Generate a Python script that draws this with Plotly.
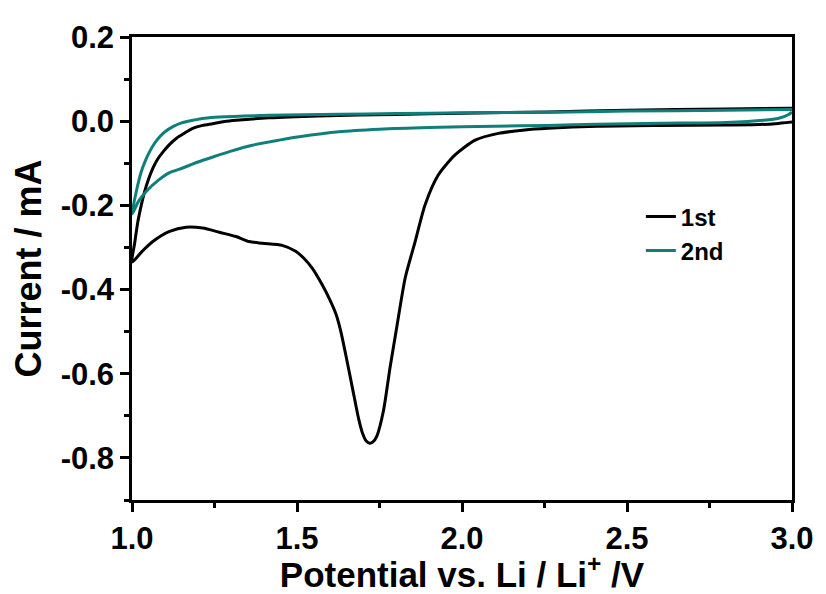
import plotly.graph_objects as go

# ---- data ----
# 1st cycle: cathodic sweep 3.0 -> 1.0 then anodic sweep 1.0 -> 3.0
v_1st = [3.0, 2.95, 2.9, 2.8, 2.6, 2.41, 2.26, 2.19, 2.11, 2.04, 1.979, 1.928,
         1.888, 1.858, 1.828, 1.802, 1.782, 1.762, 1.742, 1.73, 1.72, 1.71,
         1.698, 1.687, 1.667, 1.647, 1.632, 1.618, 1.6, 1.576, 1.546, 1.52,
         1.496, 1.455, 1.395, 1.355, 1.315, 1.265, 1.214, 1.164, 1.114, 1.063,
         1.03, 1.0,
         1.008, 1.018, 1.028, 1.038, 1.05, 1.063, 1.078, 1.094, 1.114, 1.134,
         1.16, 1.184, 1.214, 1.244, 1.28, 1.315, 1.415, 1.566, 1.8, 2.0, 2.26,
         2.5, 2.8, 3.0]
i_1st = [-0.002, -0.006, -0.008, -0.009, -0.010, -0.012, -0.017, -0.021, -0.029,
         -0.045, -0.080, -0.128, -0.199, -0.286, -0.372, -0.491, -0.585, -0.688,
         -0.748, -0.762, -0.765, -0.760, -0.740, -0.708, -0.630, -0.552, -0.497,
         -0.458, -0.425, -0.388, -0.349, -0.325, -0.309, -0.295, -0.290, -0.286,
         -0.274, -0.264, -0.254, -0.252, -0.262, -0.286, -0.310, -0.335,
         -0.290, -0.238, -0.200, -0.168, -0.138, -0.112, -0.090, -0.073, -0.055,
         -0.041, -0.028, -0.017, -0.010, -0.006, -0.001, 0.002, 0.008, 0.0125,
         0.016, 0.019, 0.022, 0.026, 0.029, 0.031]

# 2nd cycle
v_2nd = [3.0, 2.99, 2.96, 2.914, 2.8, 2.6, 2.41, 2.26, 2.1, 1.9, 1.75, 1.627,
         1.507, 1.446, 1.365, 1.3, 1.245, 1.2, 1.144, 1.114, 1.08, 1.043, 1.02,
         1.0,
         1.013, 1.028, 1.04, 1.053, 1.068, 1.084, 1.1, 1.124, 1.15, 1.184, 1.22,
         1.265, 1.415, 1.627, 1.8, 2.0, 2.26, 2.5, 2.8, 3.0]
i_2nd = [0.022, 0.016, 0.007, 0.002, -0.003, -0.005, -0.007, -0.010, -0.012,
         -0.015, -0.019, -0.025, -0.037, -0.045, -0.057, -0.071, -0.085, -0.097,
         -0.114, -0.122, -0.140, -0.167, -0.190, -0.221,
         -0.167, -0.120, -0.095, -0.073, -0.053, -0.037, -0.025, -0.013, -0.004,
         0.002, 0.007, 0.010, 0.014, 0.0165, 0.018, 0.020, 0.021, 0.024, 0.026,
         0.028]

x_ticks = [1.0, 1.5, 2.0, 2.5, 3.0]
x_ticktext = ["1.0", "1.5", "2.0", "2.5", "3.0"]
y_ticks = [0.2, 0.0, -0.2, -0.4, -0.6, -0.8]
y_ticktext = ["0.2", "0.0", "-0.2", "-0.4", "-0.6", "-0.8"]

FONT = "Arial, Liberation Sans, sans-serif"

fig = go.Figure()
fig.add_trace(go.Scatter(x=v_1st, y=i_1st, mode="lines", name="1st",
                         line=dict(color="#000000", width=3, shape="spline",
                                   smoothing=0.7)))
fig.add_trace(go.Scatter(x=v_2nd, y=i_2nd, mode="lines", name="2nd",
                         line=dict(color="#0f7f7c", width=3, shape="spline",
                                   smoothing=0.7)))

axis_common = dict(
    showline=True, linecolor="black", linewidth=2.5, mirror=True,
    showgrid=False, zeroline=False,
    ticks="outside", ticklen=9, tickwidth=2.5, tickcolor="black",
    tickfont=dict(family=FONT, size=31, color="black", weight="bold"),
)

fig.update_xaxes(
    range=[1.0, 3.0], tickmode="array", tickvals=x_ticks, ticktext=x_ticktext,
    minor=dict(dtick=0.25, tick0=1.0, ticks="outside", ticklen=5,
               tickwidth=2.5, tickcolor="black"),
    title=dict(text="Potential vs. Li / Li<sup>+</sup> /V", standoff=2,
               font=dict(family=FONT, size=35, color="black", weight="bold")),
    **axis_common)
fig.update_yaxes(
    range=[-0.9, 0.2], tickmode="array", tickvals=y_ticks, ticktext=y_ticktext,
    minor=dict(dtick=0.1, tick0=0.0, ticks="outside", ticklen=5,
               tickwidth=2.5, tickcolor="black"),
    title=dict(text="Current / mA", standoff=12,
               font=dict(family=FONT, size=36, color="black", weight="bold")),
    **axis_common)

# page body has an 8px margin, so the figure is 818x586 to fill the 826x594 window
fig.update_layout(
    width=818, height=586,
    margin=dict(l=124, r=31, t=27, b=94),
    paper_bgcolor="white", plot_bgcolor="white",
    showlegend=True,
    legend=dict(x=0.771, y=0.575, xanchor="left", yanchor="middle",
                bgcolor="rgba(0,0,0,0)", tracegroupgap=0,
                font=dict(family=FONT, size=24, color="black", weight="bold")),
)

fig.write_html("out.html")
